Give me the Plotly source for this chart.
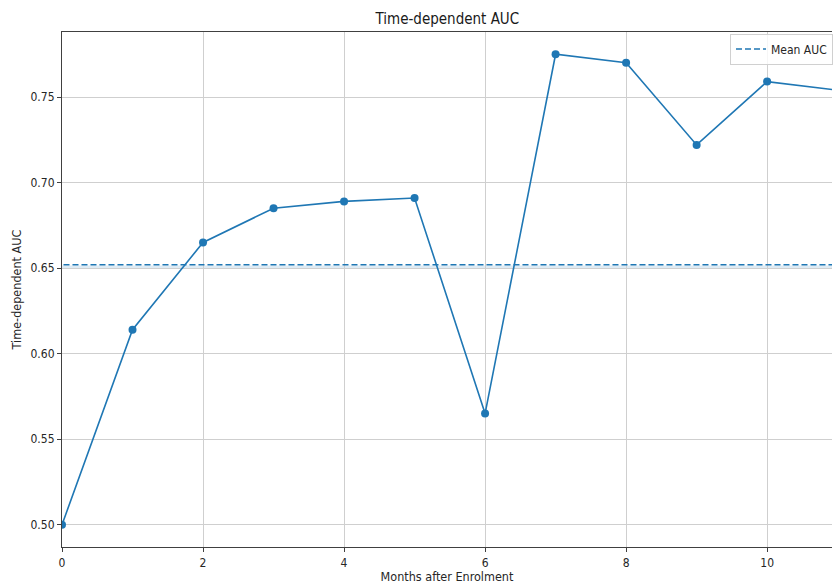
import plotly.graph_objects as go

months = [0, 1, 2, 3, 4, 5, 6, 7, 8, 9, 10, 11]
auc = [0.500, 0.614, 0.665, 0.685, 0.689, 0.691, 0.565, 0.775, 0.770, 0.722, 0.759, 0.754]
mean_auc = 0.652
band = [0.6495, 0.6515]
x_ticks = [0, 2, 4, 6, 8, 10]
y_ticks = [0.50, 0.55, 0.60, 0.65, 0.70, 0.75]

FONT = "DejaVu Sans Condensed, DejaVu Sans, sans-serif"
blue = "#1f77b4"

fig = go.Figure()
fig.add_shape(type="rect", xref="paper", yref="y", x0=0, x1=1, y0=band[0], y1=band[1],
              fillcolor="rgba(31,119,180,0.15)", line_width=0, layer="below")
fig.add_trace(go.Scatter(x=months, y=auc, mode="lines+markers",
                         line=dict(color=blue, width=1.6),
                         marker=dict(color=blue, size=8), showlegend=False))
fig.add_trace(go.Scatter(x=[-1, 12], y=[mean_auc, mean_auc], mode="lines",
                         line=dict(color=blue, width=1.6, dash="6px,3px"),
                         name="Mean AUC", showlegend=True))

fig.update_layout(
    width=833, height=584,
    margin=dict(l=62, r=0, t=32, b=37),
    paper_bgcolor="white", plot_bgcolor="white",
    font=dict(family=FONT, size=12, color="#262626"),
    title=dict(text="Time-dependent AUC", x=0.537, xanchor="center",
               y=1 - 19 / 584, yanchor="middle", font=dict(size=15, color="#1a1a1a")),
    legend=dict(x=(731 - 62) / 771, y=0.997, xanchor="left", yanchor="top",
                bgcolor="rgba(255,255,255,0.8)", bordercolor="#d0d0d0", borderwidth=1,
                font=dict(size=12, color="#262626")),
)
fig.update_xaxes(range=[0, 10.92], tickvals=x_ticks, ticktext=[str(v) for v in x_ticks],
                 showgrid=True, gridcolor="#cfcfcf", gridwidth=1, zeroline=False,
                 showline=True, linecolor="#404040", linewidth=1.2, mirror=True,
                 ticks="outside", ticklen=4, tickcolor="#404040",
                 title=dict(text="Months after Enrolment", standoff=4, font=dict(size=12.5)))
fig.update_yaxes(range=[0.487, 0.788], tickvals=y_ticks, ticktext=[f"{v:.2f}" for v in y_ticks],
                 showgrid=True, gridcolor="#cfcfcf", gridwidth=1, zeroline=False,
                 showline=True, linecolor="#404040", linewidth=1.2, mirror=False,
                 ticks="outside", ticklen=4, tickcolor="#404040",
                 title=dict(text="Time-dependent AUC", standoff=6, font=dict(size=12.5)))

fig.write_html("out.html")
